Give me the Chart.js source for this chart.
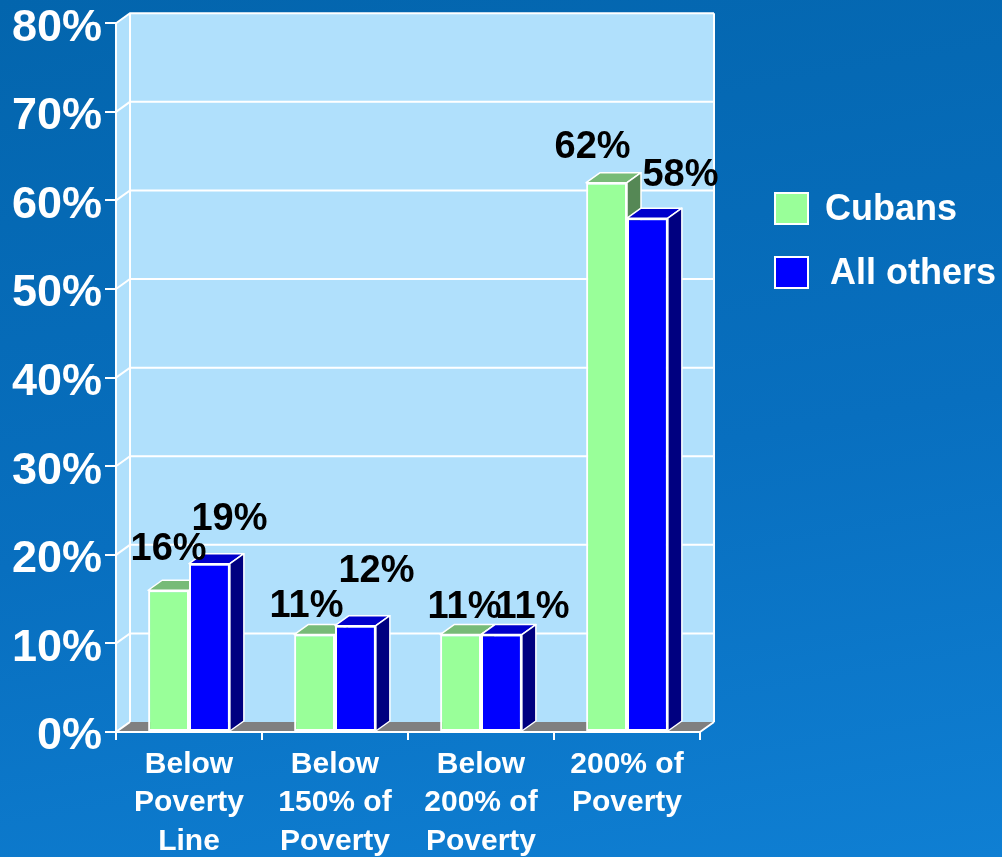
<!DOCTYPE html>
<html>
<head>
<meta charset="utf-8">
<script src="https://cdn.jsdelivr.net/npm/chart.js@4"></script>
<style>
  html, body { margin: 0; padding: 0; }
  body {
    width: 1002px; height: 857px; overflow: hidden;
    background: linear-gradient(170deg, #0365ad 0%, #086fbf 55%, #0f7fd3 100%);
  }
  canvas { display: block; }
</style>
</head>
<body>
<canvas id="grafico" width="1002" height="857"></canvas>
<script>
// datos
const categorias = [
  ["Below", "Poverty", "Line"],
  ["Below", "150% of", "Poverty"],
  ["Below", "200% of", "Poverty"],
  ["200% of", "Poverty"]
];
const cubanos = [16, 11, 11, 62];
const otros = [19, 12, 11, 58];
const nombresSeries = ["Cubans", "All others"];
const ticksY = [0, 10, 20, 30, 40, 50, 60, 70, 80];

// ajustes de las etiquetas [dx, espacio sobre la barra]
const ajusteEtiquetas = [
  [[0, 30], [-8, 18], [4, 17], [-14, 25]],
  [[20, 34], [21, 44], [31, 17], [33, 32]]
];

const FUENTE = '"Liberation Sans", Arial, sans-serif';
const DX = 14, DY = 10;
const colorPared = "#b0e0fc";
const caras = [
  { frente: "#99ff99", arriba: "#77bb77", lado: "#558855" },
  { frente: "#0000ff", arriba: "#0000cc", lado: "#000080" }
];

Chart.defaults.font.family = FUENTE;

// pared del fondo, piso y cajas 3D
const efecto3d = {
  id: "efecto3d",
  beforeDraw(chart) {
    const { ctx, chartArea: a, scales: { y } } = chart;
    ctx.save();
    ctx.fillStyle = colorPared;
    ctx.beginPath();
    ctx.moveTo(a.left, a.top);
    ctx.lineTo(a.left + DX, a.top - DY);
    ctx.lineTo(a.left + DX, a.bottom - DY);
    ctx.lineTo(a.left, a.bottom);
    ctx.closePath();
    ctx.fill();
    ctx.fillRect(a.left + DX, a.top - DY, a.right - a.left, a.bottom - a.top);

    ctx.strokeStyle = "#fff";
    ctx.lineWidth = 2;
    ctx.beginPath();
    ticksY.forEach((v) => {
      const py = y.getPixelForValue(v);
      ctx.moveTo(a.left, py);
      ctx.lineTo(a.left + DX, py - DY);
      if (v > 0) ctx.lineTo(a.right + DX, py - DY);
    });
    ctx.moveTo(a.left + DX, a.top - DY);
    ctx.lineTo(a.left + DX, a.bottom - DY);
    ctx.moveTo(a.right + DX, a.top - DY);
    ctx.lineTo(a.right + DX, a.bottom - DY);
    ctx.stroke();

    // piso
    ctx.fillStyle = "#808080";
    ctx.beginPath();
    ctx.moveTo(a.left, a.bottom);
    ctx.lineTo(a.right, a.bottom);
    ctx.lineTo(a.right + DX, a.bottom - DY);
    ctx.lineTo(a.left + DX, a.bottom - DY);
    ctx.closePath();
    ctx.fill();
    ctx.beginPath();
    ctx.moveTo(a.left, a.bottom);
    ctx.lineTo(a.left + DX, a.bottom - DY);
    ctx.moveTo(a.right, a.bottom);
    ctx.lineTo(a.right + DX, a.bottom - DY);
    ctx.stroke();
    ctx.restore();
  },
  beforeDatasetsDraw(chart) {
    const { ctx } = chart;
    ctx.save();
    ctx.strokeStyle = "#fff";
    ctx.lineWidth = 1.5;
    ctx.lineJoin = "round";
    chart.data.datasets.forEach((ds, i) => {
      chart.getDatasetMeta(i).data.forEach((bar) => {
        const { x, y, base, width } = bar.getProps(["x", "y", "base", "width"], true);
        const l = x - width / 2, r = x + width / 2;
        // cara superior
        ctx.fillStyle = caras[i].arriba;
        ctx.beginPath();
        ctx.moveTo(l, y);
        ctx.lineTo(r, y);
        ctx.lineTo(r + DX, y - DY);
        ctx.lineTo(l + DX, y - DY);
        ctx.closePath();
        ctx.fill();
        ctx.stroke();
        // cara lateral
        ctx.fillStyle = caras[i].lado;
        ctx.beginPath();
        ctx.moveTo(r, y);
        ctx.lineTo(r + DX, y - DY);
        ctx.lineTo(r + DX, base - DY);
        ctx.lineTo(r, base);
        ctx.closePath();
        ctx.fill();
        ctx.stroke();
      });
    });
    ctx.restore();
  },
  afterDatasetsDraw(chart) {
    const { ctx } = chart;
    ctx.save();
    ctx.fillStyle = "#000";
    ctx.font = "bold 38px " + FUENTE;
    ctx.textAlign = "center";
    ctx.textBaseline = "alphabetic";
    chart.data.datasets.forEach((ds, i) => {
      chart.getDatasetMeta(i).data.forEach((bar, j) => {
        const [dx, esp] = ajusteEtiquetas[i][j];
        ctx.fillText(ds.data[j] + "%", bar.x + dx, bar.y - esp);
      });
    });
    ctx.restore();
  },
  afterDraw(chart) {
    const { ctx, chartArea: a } = chart;
    ctx.save();
    ctx.font = "bold 36px " + FUENTE;
    ctx.textBaseline = "middle";
    ctx.textAlign = "left";
    chart.data.datasets.forEach((ds, i) => {
      const bx = a.right + 75, by = 193 + i * 64;
      ctx.fillStyle = caras[i].frente;
      ctx.fillRect(bx, by, 33, 31);
      ctx.strokeStyle = "#fff";
      ctx.lineWidth = 2;
      ctx.strokeRect(bx, by, 33, 31);
      ctx.fillStyle = "#fff";
      ctx.fillText(ds.label, bx + 50 + i * 5, by + 17);
    });
    ctx.restore();
  }
};

new Chart(document.getElementById("grafico"), {
  type: "bar",
  data: {
    labels: categorias,
    datasets: [
      {
        label: nombresSeries[0],
        data: cubanos,
        backgroundColor: caras[0].frente,
        borderColor: "#fff",
        borderWidth: 2,
        borderSkipped: false
      },
      {
        label: nombresSeries[1],
        data: otros,
        backgroundColor: caras[1].frente,
        borderColor: "#fff",
        borderWidth: 2,
        borderSkipped: false
      }
    ]
  },
  options: {
    responsive: false,
    animation: false,
    layout: { padding: { top: 22, right: 302, left: 0, bottom: 0 } },
    categoryPercentage: 0.56,
    barPercentage: 1,
    plugins: {
      legend: { display: false },
      tooltip: { enabled: false }
    },
    scales: {
      x: {
        offset: true,
        grid: { offset: true, drawOnChartArea: false, color: "#fff", lineWidth: 2, tickLength: 8 },
        border: { display: true, color: "#fff", width: 2 },
        ticks: {
          color: "#fff",
          font: { size: 30, weight: "bold", lineHeight: 1.27 },
          padding: 6,
          maxRotation: 0,
          autoSkip: false
        },
        afterFit: (s) => { s.height = 125; }
      },
      y: {
        min: 0,
        max: 80,
        grid: { drawOnChartArea: false, color: "#fff", lineWidth: 2, tickLength: 11 },
        border: { display: true, color: "#fff", width: 2 },
        afterBuildTicks: (s) => { s.ticks = ticksY.map((v) => ({ value: v })); },
        ticks: {
          color: "#fff",
          font: { size: 45, weight: "bold", lineHeight: 0.9 },
          padding: 3,
          labelOffset: 5,
          callback: (v) => v + "%"
        },
        afterFit: (s) => { s.width = 116; }
      }
    }
  },
  plugins: [efecto3d]
});
</script>
</body>
</html>
